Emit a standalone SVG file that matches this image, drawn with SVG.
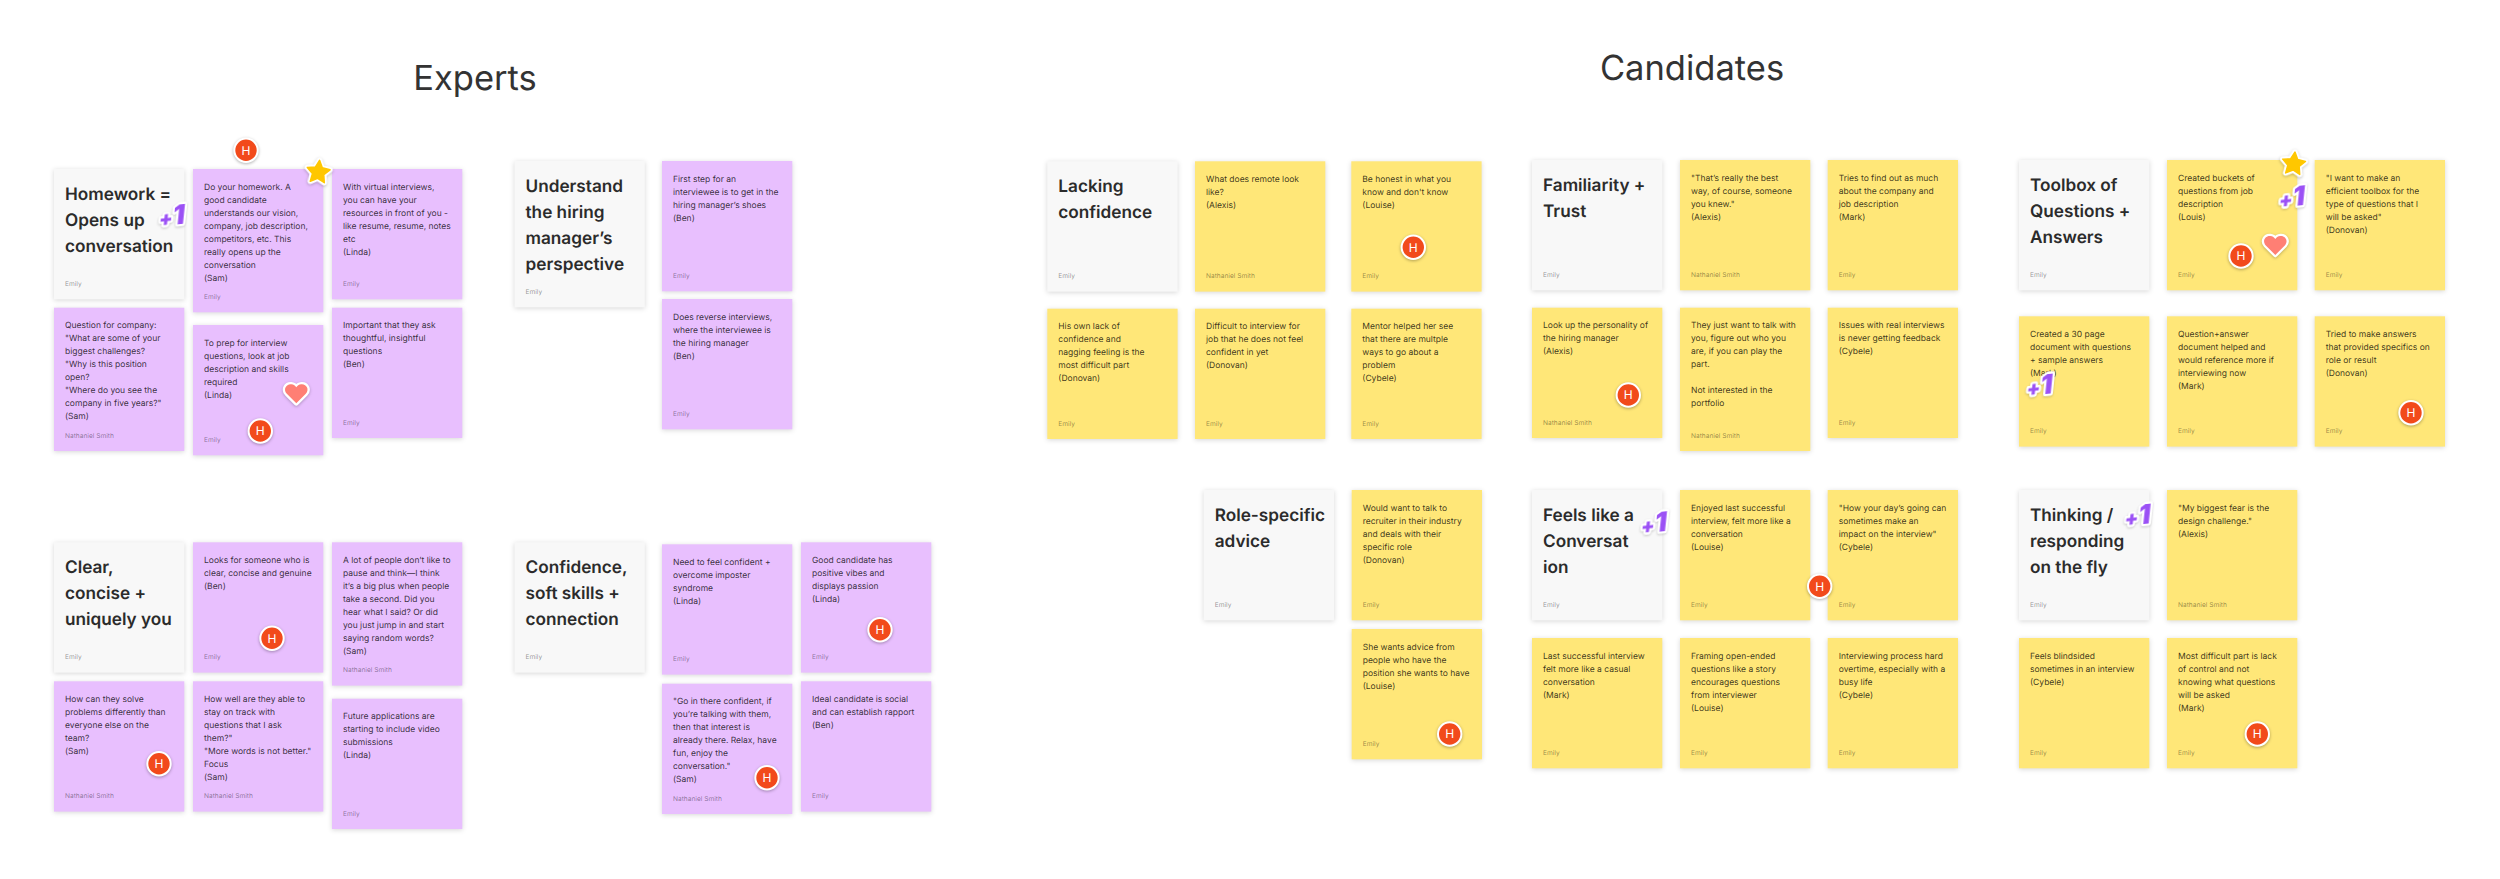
<svg xmlns="http://www.w3.org/2000/svg" width="2500" height="879" viewBox="0 0 2500 879">
<style>
text{font-family:"Inter","Liberation Sans",sans-serif;text-rendering:geometricPrecision}
.p,.y,.g{filter:drop-shadow(0 1.5px 2.5px rgba(0,0,0,.16))}
.p{fill:#E8BFFE}.y{fill:#FFE778}.g{fill:#F8F8F8}
.b{font-size:8.5px;fill:#000;fill-opacity:.78}
.a{font-size:6.6px;fill:#000;fill-opacity:.42}
.h{font-size:17.2px;font-weight:600;fill:#2b2b2b}
.t{font-size:34.5px;fill:#333}
.av{fill:#F24A1B;stroke:#fff;stroke-width:2;filter:drop-shadow(0 1px 1.5px rgba(0,0,0,.3))}
.avt{font-size:12px;fill:#fff;text-anchor:middle}
.st{fill:#FFC700;stroke:#FFC700;stroke-width:1.5;stroke-linejoin:round}
.sb{fill:#fff;stroke:#fff;stroke-width:5.5;stroke-linejoin:round;filter:drop-shadow(0 1px 1.5px rgba(0,0,0,.25))}
.he{fill:#FF7F74}
.hb{fill:#fff;stroke:#fff;stroke-width:4.5;stroke-linejoin:round;filter:drop-shadow(0 1px 1.5px rgba(0,0,0,.25))}
.one{font-size:27px;font-weight:900;fill:#9B51F5;stroke:#fff;stroke-width:4.5;stroke-linejoin:round;paint-order:stroke;text-anchor:middle;filter:drop-shadow(0 1px 1px rgba(0,0,0,.2))}
</style>
<defs>
<polygon id="starShape" points="0,-12 3.5,-4.9 11.4,-3.7 5.7,1.9 7.05,9.7 0,6 -7.05,9.7 -5.7,1.9 -11.4,-3.7 -3.5,-4.9"/>
<path id="heartShape" d="M0,10 L-9.5,0.5 C-13.5,-4 -10,-9.5 -5,-9 C-2.5,-8.8 -1,-7.5 0,-6 C1,-7.5 2.5,-8.8 5,-9 C10,-9.5 13.5,-4 9.5,0.5 Z"/>
</defs>
<rect width="2500" height="879" fill="#fff"/>
<text class="t" x="475" y="90" text-anchor="middle">Experts</text>
<text class="t" x="1692" y="80" text-anchor="middle">Candidates</text>

<g id="e1-h" transform="translate(54,169)"><rect class="g" width="130.3" height="130.3"/><text class="h" x="11" y="30.5"><tspan x="11">Homework =</tspan><tspan x="11" dy="26">Opens up</tspan><tspan x="11" dy="26">conversation</tspan></text><text class="a" x="11" y="117">Emily</text></g>
<g id="e1-1" transform="translate(193,169)"><rect class="p" width="130.3" height="143.3"/><text class="b" x="11" y="20.5"><tspan x="11">Do your homework. A</tspan><tspan x="11" dy="13">good candidate</tspan><tspan x="11" dy="13">understands our vision,</tspan><tspan x="11" dy="13">company, job description,</tspan><tspan x="11" dy="13">competitors, etc. This</tspan><tspan x="11" dy="13">really opens up the</tspan><tspan x="11" dy="13">conversation</tspan><tspan x="11" dy="13">(Sam)</tspan></text><text class="a" x="11" y="130">Emily</text></g>
<g id="e1-2" transform="translate(332,169)"><rect class="p" width="130.3" height="130.3"/><text class="b" x="11" y="20.5"><tspan x="11">With virtual interviews,</tspan><tspan x="11" dy="13">you can have your</tspan><tspan x="11" dy="13">resources in front of you -</tspan><tspan x="11" dy="13">like resume, resume, notes</tspan><tspan x="11" dy="13">etc</tspan><tspan x="11" dy="13">(Linda)</tspan></text><text class="a" x="11" y="117">Emily</text></g>
<g id="e1-3" transform="translate(54,307.7)"><rect class="p" width="130.3" height="143.3"/><text class="b" x="11" y="20.5"><tspan x="11">Question for company:</tspan><tspan x="11" dy="13">"What are some of your</tspan><tspan x="11" dy="13">biggest challenges?</tspan><tspan x="11" dy="13">"Why is this position</tspan><tspan x="11" dy="13">open?</tspan><tspan x="11" dy="13">"Where do you see the</tspan><tspan x="11" dy="13">company in five years?"</tspan><tspan x="11" dy="13">(Sam)</tspan></text><text class="a" x="11" y="130">Nathaniel Smith</text></g>
<g id="e1-4" transform="translate(193,325)"><rect class="p" width="130.3" height="130.3"/><text class="b" x="11" y="20.5"><tspan x="11">To prep for interview</tspan><tspan x="11" dy="13">questions, look at job</tspan><tspan x="11" dy="13">description and skills</tspan><tspan x="11" dy="13">required</tspan><tspan x="11" dy="13">(Linda)</tspan></text><text class="a" x="11" y="117">Emily</text></g>
<g id="e1-5" transform="translate(332,307.7)"><rect class="p" width="130.3" height="130.3"/><text class="b" x="11" y="20.5"><tspan x="11">Important that they ask</tspan><tspan x="11" dy="13">thoughtful, insightful</tspan><tspan x="11" dy="13">questions</tspan><tspan x="11" dy="13">(Ben)</tspan></text><text class="a" x="11" y="117">Emily</text></g>

<g id="e2-h" transform="translate(514.5,161)"><rect class="g" width="130.3" height="146.3"/><text class="h" x="11" y="30.5"><tspan x="11">Understand</tspan><tspan x="11" dy="26">the hiring</tspan><tspan x="11" dy="26">manager’s</tspan><tspan x="11" dy="26">perspective</tspan></text><text class="a" x="11" y="133">Emily</text></g>
<g id="e2-1" transform="translate(662,161)"><rect class="p" width="130.3" height="130.3"/><text class="b" x="11" y="20.5"><tspan x="11">First step for an</tspan><tspan x="11" dy="13">interviewee is to get in the</tspan><tspan x="11" dy="13">hiring manager’s shoes</tspan><tspan x="11" dy="13">(Ben)</tspan></text><text class="a" x="11" y="117">Emily</text></g>
<g id="e2-2" transform="translate(662,299)"><rect class="p" width="130.3" height="130.3"/><text class="b" x="11" y="20.5"><tspan x="11">Does reverse interviews,</tspan><tspan x="11" dy="13">where the interviewee is</tspan><tspan x="11" dy="13">the hiring manager</tspan><tspan x="11" dy="13">(Ben)</tspan></text><text class="a" x="11" y="117">Emily</text></g>

<g id="e3-h" transform="translate(54,542.3)"><rect class="g" width="130.3" height="130.3"/><text class="h" x="11" y="30.5"><tspan x="11">Clear,</tspan><tspan x="11" dy="26">concise +</tspan><tspan x="11" dy="26">uniquely you</tspan></text><text class="a" x="11" y="117">Emily</text></g>
<g id="e3-1" transform="translate(193,542.3)"><rect class="p" width="130.3" height="130.3"/><text class="b" x="11" y="20.5"><tspan x="11">Looks for someone who is</tspan><tspan x="11" dy="13">clear, concise and genuine</tspan><tspan x="11" dy="13">(Ben)</tspan></text><text class="a" x="11" y="117">Emily</text></g>
<g id="e3-2" transform="translate(332,542.3)"><rect class="p" width="130.3" height="143.3"/><text class="b" x="11" y="20.5"><tspan x="11">A lot of people don’t like to</tspan><tspan x="11" dy="13">pause and think—I think</tspan><tspan x="11" dy="13">it’s a big plus when people</tspan><tspan x="11" dy="13">take a second. Did you</tspan><tspan x="11" dy="13">hear what I said? Or did</tspan><tspan x="11" dy="13">you just jump in and start</tspan><tspan x="11" dy="13">saying random words?</tspan><tspan x="11" dy="13">(Sam)</tspan></text><text class="a" x="11" y="130">Nathaniel Smith</text></g>
<g id="e3-3" transform="translate(54,681.3)"><rect class="p" width="130.3" height="130.3"/><text class="b" x="11" y="20.5"><tspan x="11">How can they solve</tspan><tspan x="11" dy="13">problems differently than</tspan><tspan x="11" dy="13">everyone else on the</tspan><tspan x="11" dy="13">team?</tspan><tspan x="11" dy="13">(Sam)</tspan></text><text class="a" x="11" y="117">Nathaniel Smith</text></g>
<g id="e3-4" transform="translate(193,681.3)"><rect class="p" width="130.3" height="130.3"/><text class="b" x="11" y="20.5"><tspan x="11">How well are they able to</tspan><tspan x="11" dy="13">stay on track with</tspan><tspan x="11" dy="13">questions that I ask</tspan><tspan x="11" dy="13">them?"</tspan><tspan x="11" dy="13">"More words is not better."</tspan><tspan x="11" dy="13">Focus</tspan><tspan x="11" dy="13">(Sam)</tspan></text><text class="a" x="11" y="117">Nathaniel Smith</text></g>
<g id="e3-5" transform="translate(332,698.7)"><rect class="p" width="130.3" height="130.3"/><text class="b" x="11" y="20.5"><tspan x="11">Future applications are</tspan><tspan x="11" dy="13">starting to include video</tspan><tspan x="11" dy="13">submissions</tspan><tspan x="11" dy="13">(Linda)</tspan></text><text class="a" x="11" y="117">Emily</text></g>

<g id="e4-h" transform="translate(514.5,542.3)"><rect class="g" width="130.3" height="130.3"/><text class="h" x="11" y="30.5"><tspan x="11">Confidence,</tspan><tspan x="11" dy="26">soft skills +</tspan><tspan x="11" dy="26">connection</tspan></text><text class="a" x="11" y="117">Emily</text></g>
<g id="e4-1" transform="translate(662,544.3)"><rect class="p" width="130.3" height="130.3"/><text class="b" x="11" y="20.5"><tspan x="11">Need to feel confident +</tspan><tspan x="11" dy="13">overcome imposter</tspan><tspan x="11" dy="13">syndrome</tspan><tspan x="11" dy="13">(Linda)</tspan></text><text class="a" x="11" y="117">Emily</text></g>
<g id="e4-2" transform="translate(801,542.3)"><rect class="p" width="130.3" height="130.3"/><text class="b" x="11" y="20.5"><tspan x="11">Good candidate has</tspan><tspan x="11" dy="13">positive vibes and</tspan><tspan x="11" dy="13">displays passion</tspan><tspan x="11" dy="13">(Linda)</tspan></text><text class="a" x="11" y="117">Emily</text></g>
<g id="e4-3" transform="translate(662,683.7)"><rect class="p" width="130.3" height="130.3"/><text class="b" x="11" y="20.5"><tspan x="11">"Go in there confident, if</tspan><tspan x="11" dy="13">you’re talking with them,</tspan><tspan x="11" dy="13">then that interest is</tspan><tspan x="11" dy="13">already there. Relax, have</tspan><tspan x="11" dy="13">fun, enjoy the</tspan><tspan x="11" dy="13">conversation."</tspan><tspan x="11" dy="13">(Sam)</tspan></text><text class="a" x="11" y="117">Nathaniel Smith</text></g>
<g id="e4-4" transform="translate(801,681.3)"><rect class="p" width="130.3" height="130.3"/><text class="b" x="11" y="20.5"><tspan x="11">Ideal candidate is social</tspan><tspan x="11" dy="13">and can establish rapport</tspan><tspan x="11" dy="13">(Ben)</tspan></text><text class="a" x="11" y="117">Emily</text></g>

<g id="c1-h" transform="translate(1047.3,161.3)"><rect class="g" width="130.3" height="130.3"/><text class="h" x="11" y="30.5"><tspan x="11">Lacking</tspan><tspan x="11" dy="26">confidence</tspan></text><text class="a" x="11" y="117">Emily</text></g>
<g id="c1-1" transform="translate(1195,161.3)"><rect class="y" width="130.3" height="130.3"/><text class="b" x="11" y="20.5"><tspan x="11">What does remote look</tspan><tspan x="11" dy="13">like?</tspan><tspan x="11" dy="13">(Alexis)</tspan></text><text class="a" x="11" y="117">Nathaniel Smith</text></g>
<g id="c1-2" transform="translate(1351.3,161.3)"><rect class="y" width="130.3" height="130.3"/><text class="b" x="11" y="20.5"><tspan x="11">Be honest in what you</tspan><tspan x="11" dy="13">know and don't know</tspan><tspan x="11" dy="13">(Louise)</tspan></text><text class="a" x="11" y="117">Emily</text></g>
<g id="c1-3" transform="translate(1047.3,308.7)"><rect class="y" width="130.3" height="130.3"/><text class="b" x="11" y="20.5"><tspan x="11">His own lack of</tspan><tspan x="11" dy="13">confidence and</tspan><tspan x="11" dy="13">nagging feeling is the</tspan><tspan x="11" dy="13">most difficult part</tspan><tspan x="11" dy="13">(Donovan)</tspan></text><text class="a" x="11" y="117">Emily</text></g>
<g id="c1-4" transform="translate(1195,308.7)"><rect class="y" width="130.3" height="130.3"/><text class="b" x="11" y="20.5"><tspan x="11">Difficult to interview for</tspan><tspan x="11" dy="13">job that he does not feel</tspan><tspan x="11" dy="13">confident in yet</tspan><tspan x="11" dy="13">(Donovan)</tspan></text><text class="a" x="11" y="117">Emily</text></g>
<g id="c1-5" transform="translate(1351.3,308.7)"><rect class="y" width="130.3" height="130.3"/><text class="b" x="11" y="20.5"><tspan x="11">Mentor helped her see</tspan><tspan x="11" dy="13">that there are multple</tspan><tspan x="11" dy="13">ways to go about a</tspan><tspan x="11" dy="13">problem</tspan><tspan x="11" dy="13">(Cybele)</tspan></text><text class="a" x="11" y="117">Emily</text></g>

<g id="c2-h" transform="translate(1532,160)"><rect class="g" width="130.3" height="130.3"/><text class="h" x="11" y="30.5"><tspan x="11">Familiarity +</tspan><tspan x="11" dy="26">Trust</tspan></text><text class="a" x="11" y="117">Emily</text></g>
<g id="c2-1" transform="translate(1680,160)"><rect class="y" width="130.3" height="130.3"/><text class="b" x="11" y="20.5"><tspan x="11">"That’s really the best</tspan><tspan x="11" dy="13">way, of course, someone</tspan><tspan x="11" dy="13">you knew."</tspan><tspan x="11" dy="13">(Alexis)</tspan></text><text class="a" x="11" y="117">Nathaniel Smith</text></g>
<g id="c2-2" transform="translate(1827.7,160)"><rect class="y" width="130.3" height="130.3"/><text class="b" x="11" y="20.5"><tspan x="11">Tries to find out as much</tspan><tspan x="11" dy="13">about the company and</tspan><tspan x="11" dy="13">job description</tspan><tspan x="11" dy="13">(Mark)</tspan></text><text class="a" x="11" y="117">Emily</text></g>
<g id="c2-3" transform="translate(1532,307.7)"><rect class="y" width="130.3" height="130.3"/><text class="b" x="11" y="20.5"><tspan x="11">Look up the personality of</tspan><tspan x="11" dy="13">the hiring manager</tspan><tspan x="11" dy="13">(Alexis)</tspan></text><text class="a" x="11" y="117">Nathaniel Smith</text></g>
<g id="c2-4" transform="translate(1680,307.7)"><rect class="y" width="130.3" height="143.3"/><text class="b" x="11" y="20.5"><tspan x="11">They just want to talk with</tspan><tspan x="11" dy="13">you, figure out who you</tspan><tspan x="11" dy="13">are, if you can play the</tspan><tspan x="11" dy="13">part.</tspan><tspan x="11" dy="26">Not interested in the</tspan><tspan x="11" dy="13">portfolio</tspan></text><text class="a" x="11" y="130">Nathaniel Smith</text></g>
<g id="c2-5" transform="translate(1827.7,307.7)"><rect class="y" width="130.3" height="130.3"/><text class="b" x="11" y="20.5"><tspan x="11">Issues with real interviews</tspan><tspan x="11" dy="13">is never getting feedback</tspan><tspan x="11" dy="13">(Cybele)</tspan></text><text class="a" x="11" y="117">Emily</text></g>

<g id="c3-h" transform="translate(2019,160)"><rect class="g" width="130.3" height="130.3"/><text class="h" x="11" y="30.5"><tspan x="11">Toolbox of</tspan><tspan x="11" dy="26">Questions +</tspan><tspan x="11" dy="26">Answers</tspan></text><text class="a" x="11" y="117">Emily</text></g>
<g id="c3-1" transform="translate(2167,160)"><rect class="y" width="130.3" height="130.3"/><text class="b" x="11" y="20.5"><tspan x="11">Created buckets of</tspan><tspan x="11" dy="13">questions from job</tspan><tspan x="11" dy="13">description</tspan><tspan x="11" dy="13">(Louis)</tspan></text><text class="a" x="11" y="117">Emily</text></g>
<g id="c3-2" transform="translate(2314.7,160)"><rect class="y" width="130.3" height="130.3"/><text class="b" x="11" y="20.5"><tspan x="11">"I want to make an</tspan><tspan x="11" dy="13">efficient toolbox for the</tspan><tspan x="11" dy="13">type of questions that I</tspan><tspan x="11" dy="13">will be asked"</tspan><tspan x="11" dy="13">(Donovan)</tspan></text><text class="a" x="11" y="117">Emily</text></g>
<g id="c3-3" transform="translate(2019,316.3)"><rect class="y" width="130.3" height="130.3"/><text class="b" x="11" y="20.5"><tspan x="11">Created a 30 page</tspan><tspan x="11" dy="13">document with questions</tspan><tspan x="11" dy="13">+ sample answers</tspan><tspan x="11" dy="13">(Mark)</tspan></text><text class="a" x="11" y="117">Emily</text></g>
<g id="c3-4" transform="translate(2167,316.3)"><rect class="y" width="130.3" height="130.3"/><text class="b" x="11" y="20.5"><tspan x="11">Question+answer</tspan><tspan x="11" dy="13">document helped and</tspan><tspan x="11" dy="13">would reference more if</tspan><tspan x="11" dy="13">interviewing now</tspan><tspan x="11" dy="13">(Mark)</tspan></text><text class="a" x="11" y="117">Emily</text></g>
<g id="c3-5" transform="translate(2314.7,316.3)"><rect class="y" width="130.3" height="130.3"/><text class="b" x="11" y="20.5"><tspan x="11">Tried to make answers</tspan><tspan x="11" dy="13">that provided specifics on</tspan><tspan x="11" dy="13">role or result</tspan><tspan x="11" dy="13">(Donovan)</tspan></text><text class="a" x="11" y="117">Emily</text></g>

<g id="c4-h" transform="translate(1203.7,490)"><rect class="g" width="130.3" height="130.3"/><text class="h" x="11" y="30.5"><tspan x="11">Role-specific</tspan><tspan x="11" dy="26">advice</tspan></text><text class="a" x="11" y="117">Emily</text></g>
<g id="c4-1" transform="translate(1351.7,490)"><rect class="y" width="130.3" height="130.3"/><text class="b" x="11" y="20.5"><tspan x="11">Would want to talk to</tspan><tspan x="11" dy="13">recruiter in their industry</tspan><tspan x="11" dy="13">and deals with their</tspan><tspan x="11" dy="13">specific role</tspan><tspan x="11" dy="13">(Donovan)</tspan></text><text class="a" x="11" y="117">Emily</text></g>
<g id="c4-2" transform="translate(1351.7,629)"><rect class="y" width="130.3" height="130.3"/><text class="b" x="11" y="20.5"><tspan x="11">She wants advice from</tspan><tspan x="11" dy="13">people who have the</tspan><tspan x="11" dy="13">position she wants to have</tspan><tspan x="11" dy="13">(Louise)</tspan></text><text class="a" x="11" y="117">Emily</text></g>

<g id="c5-h" transform="translate(1532,490)"><rect class="g" width="130.3" height="130.3"/><text class="h" x="11" y="30.5"><tspan x="11">Feels like a</tspan><tspan x="11" dy="26">Conversat</tspan><tspan x="11" dy="26">ion</tspan></text><text class="a" x="11" y="117">Emily</text></g>
<g id="c5-1" transform="translate(1680,490)"><rect class="y" width="130.3" height="130.3"/><text class="b" x="11" y="20.5"><tspan x="11">Enjoyed last successful</tspan><tspan x="11" dy="13">interview, felt more like a</tspan><tspan x="11" dy="13">conversation</tspan><tspan x="11" dy="13">(Louise)</tspan></text><text class="a" x="11" y="117">Emily</text></g>
<g id="c5-2" transform="translate(1827.7,490)"><rect class="y" width="130.3" height="130.3"/><text class="b" x="11" y="20.5"><tspan x="11">"How your day’s going can</tspan><tspan x="11" dy="13">sometimes make an</tspan><tspan x="11" dy="13">impact on the interview"</tspan><tspan x="11" dy="13">(Cybele)</tspan></text><text class="a" x="11" y="117">Emily</text></g>
<g id="c5-3" transform="translate(1532,638)"><rect class="y" width="130.3" height="130.3"/><text class="b" x="11" y="20.5"><tspan x="11">Last successful interview</tspan><tspan x="11" dy="13">felt more like a casual</tspan><tspan x="11" dy="13">conversation</tspan><tspan x="11" dy="13">(Mark)</tspan></text><text class="a" x="11" y="117">Emily</text></g>
<g id="c5-4" transform="translate(1680,638)"><rect class="y" width="130.3" height="130.3"/><text class="b" x="11" y="20.5"><tspan x="11">Framing open-ended</tspan><tspan x="11" dy="13">questions like a story</tspan><tspan x="11" dy="13">encourages questions</tspan><tspan x="11" dy="13">from interviewer</tspan><tspan x="11" dy="13">(Louise)</tspan></text><text class="a" x="11" y="117">Emily</text></g>
<g id="c5-5" transform="translate(1827.7,638)"><rect class="y" width="130.3" height="130.3"/><text class="b" x="11" y="20.5"><tspan x="11">Interviewing process hard</tspan><tspan x="11" dy="13">overtime, especially with a</tspan><tspan x="11" dy="13">busy life</tspan><tspan x="11" dy="13">(Cybele)</tspan></text><text class="a" x="11" y="117">Emily</text></g>

<g id="c6-h" transform="translate(2019,490)"><rect class="g" width="130.3" height="130.3"/><text class="h" x="11" y="30.5"><tspan x="11">Thinking /</tspan><tspan x="11" dy="26">responding</tspan><tspan x="11" dy="26">on the fly</tspan></text><text class="a" x="11" y="117">Emily</text></g>
<g id="c6-1" transform="translate(2167,490)"><rect class="y" width="130.3" height="130.3"/><text class="b" x="11" y="20.5"><tspan x="11">"My biggest fear is the</tspan><tspan x="11" dy="13">design challenge."</tspan><tspan x="11" dy="13">(Alexis)</tspan></text><text class="a" x="11" y="117">Nathaniel Smith</text></g>
<g id="c6-2" transform="translate(2019,638)"><rect class="y" width="130.3" height="130.3"/><text class="b" x="11" y="20.5"><tspan x="11">Feels blindsided</tspan><tspan x="11" dy="13">sometimes in an interview</tspan><tspan x="11" dy="13">(Cybele)</tspan></text><text class="a" x="11" y="117">Emily</text></g>
<g id="c6-3" transform="translate(2167,638)"><rect class="y" width="130.3" height="130.3"/><text class="b" x="11" y="20.5"><tspan x="11">Most difficult part is lack</tspan><tspan x="11" dy="13">of control and not</tspan><tspan x="11" dy="13">knowing what questions</tspan><tspan x="11" dy="13">will be asked</tspan><tspan x="11" dy="13">(Mark)</tspan></text><text class="a" x="11" y="117">Emily</text></g>

<g id="avatars">
<g transform="translate(246,150.3)"><circle class="av" r="11.7"/><text class="avt" y="4.4">H</text></g>
<g transform="translate(260.3,431)"><circle class="av" r="11.7"/><text class="avt" y="4.4">H</text></g>
<g transform="translate(272,638.3)"><circle class="av" r="11.7"/><text class="avt" y="4.4">H</text></g>
<g transform="translate(159,763.7)"><circle class="av" r="11.7"/><text class="avt" y="4.4">H</text></g>
<g transform="translate(880,629.7)"><circle class="av" r="11.7"/><text class="avt" y="4.4">H</text></g>
<g transform="translate(767,777.7)"><circle class="av" r="11.7"/><text class="avt" y="4.4">H</text></g>
<g transform="translate(1413.3,247.3)"><circle class="av" r="11.7"/><text class="avt" y="4.4">H</text></g>
<g transform="translate(1628.3,395)"><circle class="av" r="11.7"/><text class="avt" y="4.4">H</text></g>
<g transform="translate(2241,256)"><circle class="av" r="11.7"/><text class="avt" y="4.4">H</text></g>
<g transform="translate(2411,412.7)"><circle class="av" r="11.7"/><text class="avt" y="4.4">H</text></g>
<g transform="translate(1449.7,734)"><circle class="av" r="11.7"/><text class="avt" y="4.4">H</text></g>
<g transform="translate(1819.7,586.3)"><circle class="av" r="11.7"/><text class="avt" y="4.4">H</text></g>
<g transform="translate(2257.3,734)"><circle class="av" r="11.7"/><text class="avt" y="4.4">H</text></g>
</g>
<g id="stars">
<g transform="translate(318.3,172.3) rotate(6)"><use href="#starShape" class="sb"/><use href="#starShape" class="st"/></g>
<g transform="translate(2293.7,164) rotate(6)"><use href="#starShape" class="sb"/><use href="#starShape" class="st"/></g>
</g>
<g id="hearts">
<g transform="translate(296.3,393.3)"><use href="#heartShape" class="hb"/><use href="#heartShape" class="he"/></g>
<g transform="translate(2275.3,245)"><use href="#heartShape" class="hb"/><use href="#heartShape" class="he"/></g>
</g>
<g id="plus-ones">
<text class="one" transform="translate(171.3,225) rotate(-6) skewX(-12)"><tspan font-size="20">+</tspan>1</text>
<text class="one" transform="translate(2291.3,206.3) rotate(-6) skewX(-12)"><tspan font-size="20">+</tspan>1</text>
<text class="one" transform="translate(2039,394.7) rotate(-6) skewX(-12)"><tspan font-size="20">+</tspan>1</text>
<text class="one" transform="translate(1653.3,532.3) rotate(-6) skewX(-12)"><tspan font-size="20">+</tspan>1</text>
<text class="one" transform="translate(2137,524.7) rotate(-6) skewX(-12)"><tspan font-size="20">+</tspan>1</text>
</g>
</svg>
